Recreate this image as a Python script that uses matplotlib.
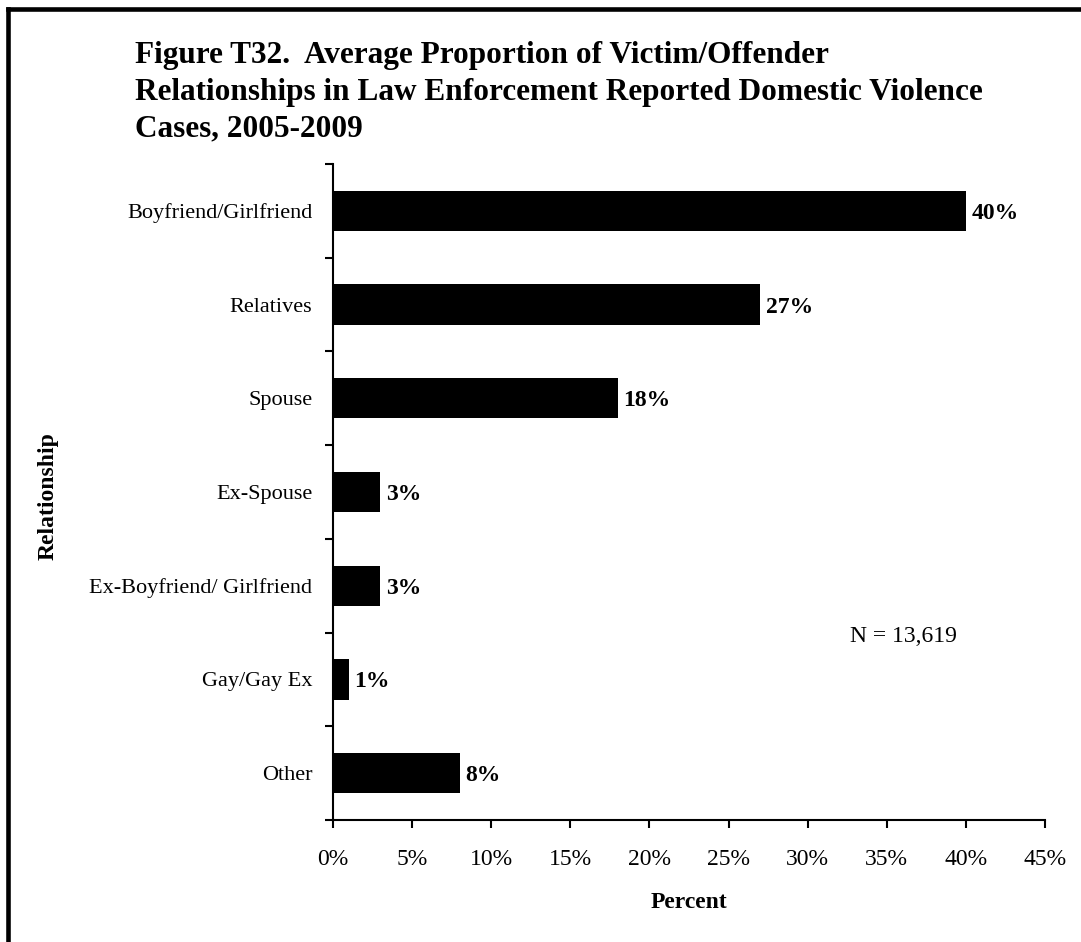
import matplotlib
matplotlib.use("Agg")
import matplotlib.pyplot as plt
from matplotlib.lines import Line2D
from matplotlib.ticker import FixedLocator, FuncFormatter

categories = ["Boyfriend/Girlfriend", "Relatives", "Spouse", "Ex-Spouse",
              "Ex-Boyfriend/ Girlfriend", "Gay/Gay Ex", "Other"]
values = [40, 27, 18, 3, 3, 1, 8]
xticks = [0, 5, 10, 15, 20, 25, 30, 35, 40, 45]
title_lines = ["Figure T32.  Average Proportion of Victim/Offender",
               "Relationships in Law Enforcement Reported Domestic Violence",
               "Cases, 2005-2009"]

plt.rcParams['font.family'] = ['Liberation Serif', 'DejaVu Serif']

W, H = 1081, 942
fig = plt.figure(figsize=(W / 100, H / 100), dpi=100)
ax = fig.add_axes([333 / W, 1 - 820 / H, (1045 - 333) / W, (820 - 164) / H])

n = len(categories)
ypos = list(range(n))
ax.barh(ypos, values, height=0.43, color='black')
ax.set_ylim(n - 0.5, -0.5)
ax.set_xlim(0, 45)

for y, v in zip(ypos, values):
    ax.text(v + 0.35, y, f"{v}%", va='center_baseline', ha='left',
            fontsize=17, fontweight='bold')

ax.xaxis.set_major_locator(FixedLocator(xticks))
ax.xaxis.set_major_formatter(FuncFormatter(lambda x, p: f"{int(x)}%"))
ax.tick_params(axis='x', which='major', direction='out', length=6, width=1.5,
               labelsize=17, pad=15)

ax.yaxis.set_major_locator(FixedLocator([i - 0.5 for i in range(n + 1)]))
ax.yaxis.set_major_formatter(FuncFormatter(lambda x, p: ""))
ax.yaxis.set_minor_locator(FixedLocator(ypos))
ax.set_yticklabels(categories, minor=True)
ax.tick_params(axis='y', which='major', direction='out', length=6, width=1.5)
ax.tick_params(axis='y', which='minor', length=0, labelsize=16, pad=15)

for s in ['top', 'right']:
    ax.spines[s].set_visible(False)
for s in ['left', 'bottom']:
    ax.spines[s].set_linewidth(1.5)

fig.text(689 / W, 1 - 903 / H, "Percent", fontsize=17, fontweight='bold',
         ha='center', va='center')
fig.text(48 / W, 1 - 496 / H, "Relationship", rotation=90, fontsize=17,
         fontweight='bold', ha='center', va='center')

for i, line in enumerate(title_lines):
    fig.text(135 / W, 1 - (63 + 36.8 * i) / H, line,
             fontsize=22.5, fontweight='bold', ha='left', va='baseline')

fig.text(850 / W, 1 - 637 / H, "N = 13,619", fontsize=17, ha='left', va='center')

# frame (left and top edges)
fig.add_artist(Line2D([8 / W, 8 / W], [0, 1 - 8.5 / H], transform=fig.transFigure,
                      color='black', linewidth=3.3, solid_capstyle='projecting'))
fig.add_artist(Line2D([8 / W, 1], [1 - 8.5 / H, 1 - 8.5 / H], transform=fig.transFigure,
                      color='black', linewidth=3.3, solid_capstyle='projecting'))

fig.savefig("out.png", dpi=100)
